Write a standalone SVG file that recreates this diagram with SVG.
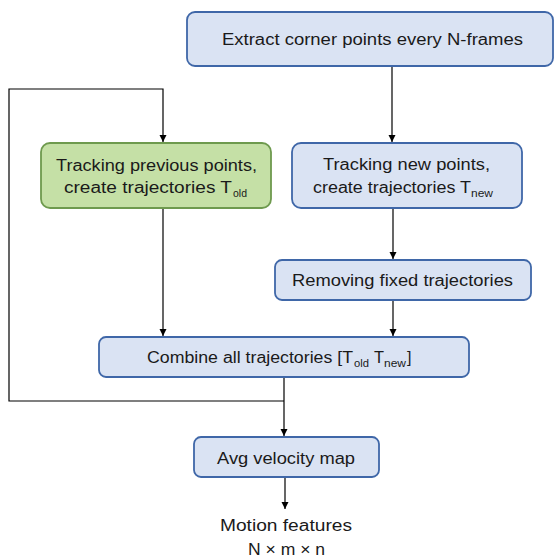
<svg xmlns="http://www.w3.org/2000/svg" width="554" height="559" viewBox="0 0 554 559">
<style>
.box{fill:#DAE3F3;stroke:#3F67A8;stroke-width:1.8}
.green{fill:#C5E0A6;stroke:#6E9A4E;stroke-width:1.8}
.t{font-family:"Liberation Sans",Arial,sans-serif;font-size:16px;fill:#1a1a1a}
.s{font-size:11px}
.ln{fill:none;stroke:#000;stroke-width:1.2}
</style>
<defs>
<marker id="ah" markerWidth="8" markerHeight="8" refX="7" refY="4" orient="auto" markerUnits="userSpaceOnUse">
<path d="M0,0.5 L7,4 L0,7.5 Z" fill="#000"/>
</marker>
</defs>
<rect width="554" height="559" fill="#fff"/>
<g id="connectors">
<path class="ln" d="M392,67 V142" marker-end="url(#ah)"/>
<path class="ln" d="M393,209 V259" marker-end="url(#ah)"/>
<path class="ln" d="M393,301 V336" marker-end="url(#ah)"/>
<path class="ln" d="M163,209 V336" marker-end="url(#ah)"/>
<path class="ln" d="M284,378 V436" marker-end="url(#ah)"/>
<path class="ln" d="M284,401 H9 V89 H163 V142" marker-end="url(#ah)"/>
<path class="ln" d="M285,478 V509" marker-end="url(#ah)"/>
</g>
<g id="extract">
<rect class="box" x="187" y="12" width="366" height="54" rx="8"/>
<text class="t" x="372.5" y="45" text-anchor="middle" textLength="301" lengthAdjust="spacingAndGlyphs">Extract corner points every N-frames</text>
</g>
<g id="track-old">
<rect class="green" x="41" y="143" width="230" height="65" rx="9"/>
<text class="t" x="156.5" y="171" text-anchor="middle" textLength="201" lengthAdjust="spacingAndGlyphs">Tracking previous points,</text>
<text class="t" x="64" y="193" textLength="168" lengthAdjust="spacingAndGlyphs">create trajectories T</text><text class="t s" x="233" y="197" textLength="14" lengthAdjust="spacingAndGlyphs">old</text>
</g>
<g id="track-new">
<rect class="box" x="292" y="143" width="230" height="65" rx="9"/>
<text class="t" x="406.5" y="170" text-anchor="middle" textLength="167" lengthAdjust="spacingAndGlyphs">Tracking new points,</text>
<text class="t" x="313" y="193" textLength="158" lengthAdjust="spacingAndGlyphs">create trajectories T</text><text class="t s" x="471" y="197" textLength="22" lengthAdjust="spacingAndGlyphs">new</text>
</g>
<g id="remove">
<rect class="box" x="275" y="260" width="256" height="40" rx="7"/>
<text class="t" x="402.5" y="286" text-anchor="middle" textLength="221" lengthAdjust="spacingAndGlyphs">Removing fixed trajectories</text>
</g>
<g id="combine">
<rect class="box" x="99" y="337" width="370" height="40" rx="7"/>
<text class="t" x="147" y="363" textLength="206" lengthAdjust="spacingAndGlyphs">Combine all trajectories [T</text><text class="t s" x="354" y="367" textLength="15" lengthAdjust="spacingAndGlyphs">old</text><text class="t" x="374" y="363" textLength="10" lengthAdjust="spacingAndGlyphs">T</text><text class="t s" x="384" y="367" textLength="22" lengthAdjust="spacingAndGlyphs">new</text><text class="t" x="407" y="363">]</text>
</g>
<g id="avg">
<rect class="box" x="194" y="437" width="185" height="40" rx="7"/>
<text class="t" x="286" y="464" text-anchor="middle" textLength="138" lengthAdjust="spacingAndGlyphs">Avg velocity map</text>
</g>
<g id="output">
<text class="t" x="286" y="531" text-anchor="middle" textLength="132" lengthAdjust="spacingAndGlyphs">Motion features</text>
<text class="t" x="286.5" y="555" text-anchor="middle" textLength="77" lengthAdjust="spacingAndGlyphs">N × m × n</text>
</g>
</svg>
